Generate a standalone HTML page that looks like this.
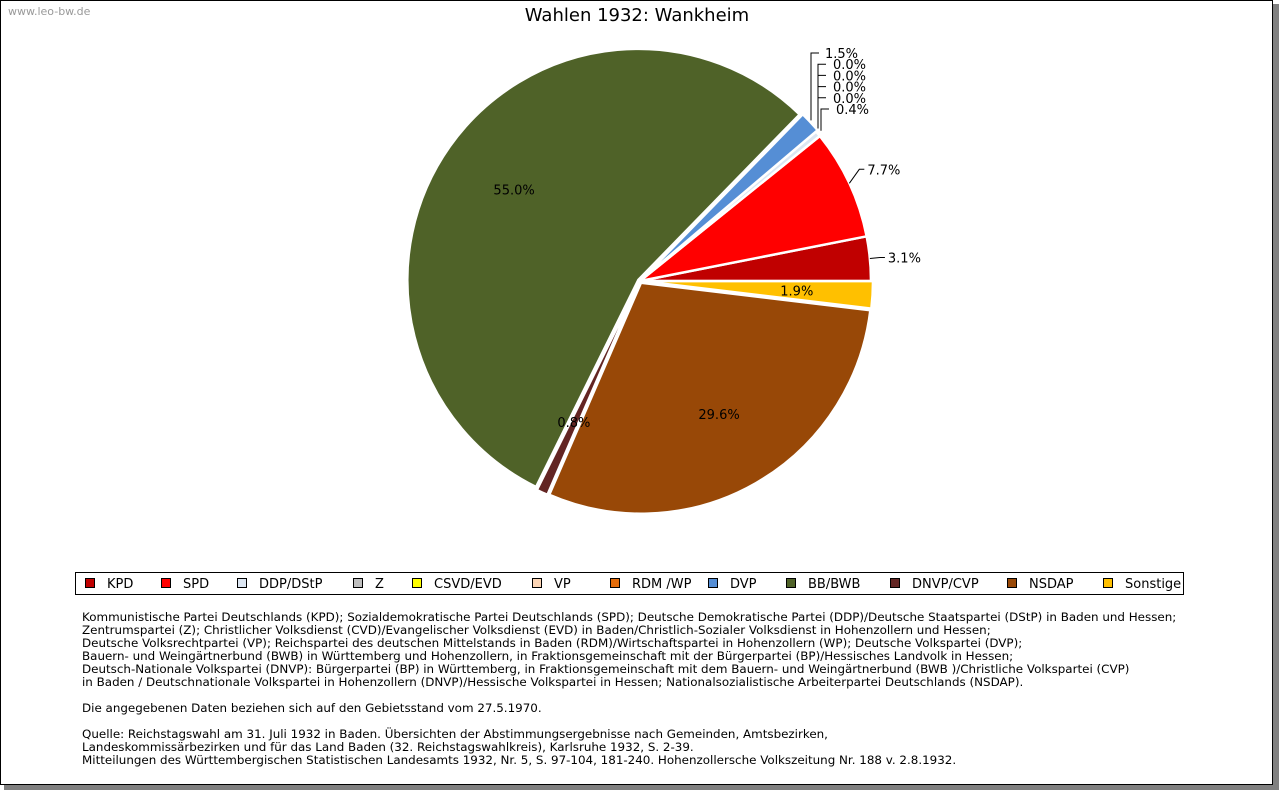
<!DOCTYPE html>
<html><head><meta charset="utf-8"><style>
body{margin:0;background:#fff;width:1280px;height:791px;overflow:hidden;font-family:"DejaVu Sans","Liberation Sans",sans-serif}
svg text{font-family:"DejaVu Sans","Liberation Sans",sans-serif}
</style></head><body>
<svg id="c" width="1280" height="791" xmlns="http://www.w3.org/2000/svg">
<rect x="4" y="4" width="1275" height="786" fill="#808080"/>
<rect x="0.5" y="0.5" width="1272" height="784" fill="#fff" stroke="#000"/>
<text x="8" y="15" font-size="11" fill="#999">www.leo-bw.de</text>
<text x="637" y="21" font-size="18" text-anchor="middle">Wahlen 1932: Wankheim</text>
<g id="pie"></g>
<g id="labels"></g>
<rect x="75.5" y="572.5" width="1108" height="22" fill="#fff" stroke="#000"/>
<g id="legend"></g>
<g font-size="11.9">
<text x="82" y="621">Kommunistische Partei Deutschlands (KPD); Sozialdemokratische Partei Deutschlands (SPD); Deutsche Demokratische Partei (DDP)/Deutsche Staatspartei (DStP) in Baden und Hessen;</text>
<text x="82" y="634">Zentrumspartei (Z); Christlicher Volksdienst (CVD)/Evangelischer Volksdienst (EVD) in Baden/Christlich-Sozialer Volksdienst in Hohenzollern und Hessen;</text>
<text x="82" y="647">Deutsche Volksrechtpartei (VP); Reichspartei des deutschen Mittelstands in Baden (RDM)/Wirtschaftspartei in Hohenzollern (WP); Deutsche Volkspartei (DVP);</text>
<text x="82" y="660">Bauern- und Weingärtnerbund (BWB) in Württemberg und Hohenzollern, in Fraktionsgemeinschaft mit der Bürgerpartei (BP)/Hessisches Landvolk in Hessen;</text>
<text x="82" y="673">Deutsch-Nationale Volkspartei (DNVP): Bürgerpartei (BP) in Württemberg, in Fraktionsgemeinschaft mit dem Bauern- und Weingärtnerbund (BWB )/Christliche Volkspartei (CVP)</text>
<text x="82" y="686">in Baden / Deutschnationale Volkspartei in Hohenzollern (DNVP)/Hessische Volkspartei in Hessen; Nationalsozialistische Arbeiterpartei Deutschlands (NSDAP).</text>
<text x="82" y="712">Die angegebenen Daten beziehen sich auf den Gebietsstand vom 27.5.1970.</text>
<text x="82" y="738">Quelle: Reichstagswahl am 31. Juli 1932 in Baden. Übersichten der Abstimmungsergebnisse nach Gemeinden, Amtsbezirken,</text>
<text x="82" y="751">Landeskommissärbezirken und für das Land Baden (32. Reichstagswahlkreis), Karlsruhe 1932, S. 2-39.</text>
<text x="82" y="764">Mitteilungen des Württembergischen Statistischen Landesamts 1932, Nr. 5, S. 97-104, 181-240. Hohenzollersche Volkszeitung Nr. 188 v. 2.8.1932.</text>
</g>
</svg>
<script>
const parties=["KPD","SPD","DDP/DStP","Z","CSVD/EVD","VP","RDM /WP","DVP","BB/BWB","DNVP/CVP","NSDAP","Sonstige"];
const shares=[3.1,7.7,0.4,0.0,0.0,0.0,0.0,1.5,55.0,0.8,29.6,1.9];
const colors=["#c00000","#ff0000","#dce6f2","#bfbfbf","#ffff00","#fcd5b5","#e46c0a","#558ed5","#4f6228","#632523","#984807","#ffc000"];
const NS="http://www.w3.org/2000/svg";
const cx=640,cy=281,R=231;
const total=shares.reduce((a,b)=>a+b,0);
function pt(a,r){return [cx+r*Math.cos(a),cy-r*Math.sin(a)];}
const pie=document.getElementById('pie'),lab=document.getElementById('labels');
let a0=0;
const outside=[];
shares.forEach((v,i)=>{
  const da=v/total*2*Math.PI,a1=a0+da,mid=(a0+a1)/2;
  const ex=(i>=7)?2:0;
  const ox=ex*Math.cos(mid),oy=-ex*Math.sin(mid);
  if(v>0){
    const p0=pt(a0,R),p1=pt(a1,R);
    const d=`M${cx+ox},${cy+oy} L${p0[0]+ox},${p0[1]+oy} A${R},${R} 0 ${da>Math.PI?1:0} 0 ${p1[0]+ox},${p1[1]+oy} Z`;
    const p=document.createElementNS(NS,'path');
    p.setAttribute('d',d);p.setAttribute('fill',colors[i]);p.setAttribute('stroke','#fff');p.setAttribute('stroke-width','2.5');
    
    
    pie.appendChild(p);
  }
  const t=document.createElementNS(NS,'text');
  t.setAttribute('font-size','13');
  t.textContent=v.toFixed(1)+'%';
  if(v>=10||i==9||i==11){
    const r=i==8?0.62:(i==10?0.6:(i==9?0.64:0.68));
    const q=pt(mid,R*r);
    const dx=i==10?10:(i==8?-9:(i==9?-4:0));
    const dy=i==10?18:(i==8?-4:(i==9?12:5));
    t.setAttribute('x',q[0]+dx);t.setAttribute('y',q[1]+dy);t.setAttribute('text-anchor','middle');
  } else if(i<2){
    const q=pt(mid,R);
    const tx=q[0]+(i==0?18:18), ty=q[1]-(i==0?1:14);
    const l=document.createElementNS(NS,'path');
    l.setAttribute('d',`M${q[0]},${q[1]} L${tx-8},${ty} L${tx-3},${ty}`);
    l.setAttribute('stroke','#000');l.setAttribute('fill','none');
    
    
    lab.appendChild(l);
    t.setAttribute('x',tx);t.setAttribute('y',ty+5);
  } else {
    outside.push([i,mid,t]);
  }
  
  
  lab.appendChild(t);
  a0=a1;
});
outside.sort((a,b)=>b[0]-a[0]);
outside.forEach((o,k)=>{
  const [i,mid,t]=o;
  const q=pt(mid,R);
  const ly=53+k*11.2;
  const lx=(k==0)?811:(k==outside.length-1?821:818);
  const l=document.createElementNS(NS,'path');
  l.setAttribute('d',`M${lx},${q[1]-3} L${lx},${ly} L${lx+8},${ly}`);
  l.setAttribute('stroke','#000');l.setAttribute('fill','none');
  
  
  lab.appendChild(l);
  t.setAttribute('x',lx+(k==0?14:15));t.setAttribute('y',ly+5);
});
const lx=[85,161,237,353,412,532,610,708,786,890,1007,1103];
const lg=document.getElementById('legend');
parties.forEach((p,i)=>{
  const g=document.createElementNS(NS,'g');
  
  
  const r=document.createElementNS(NS,'rect');
  r.setAttribute('x',lx[i]+0.5);r.setAttribute('y',578.5);r.setAttribute('width',9);r.setAttribute('height',9);
  r.setAttribute('fill',colors[i]);r.setAttribute('stroke','#000');
  const t=document.createElementNS(NS,'text');
  t.setAttribute('x',lx[i]+22);t.setAttribute('y',588);t.setAttribute('font-size','13');
  t.textContent=p;
  g.appendChild(r);g.appendChild(t);lg.appendChild(g);
});
</script>
</body></html>
